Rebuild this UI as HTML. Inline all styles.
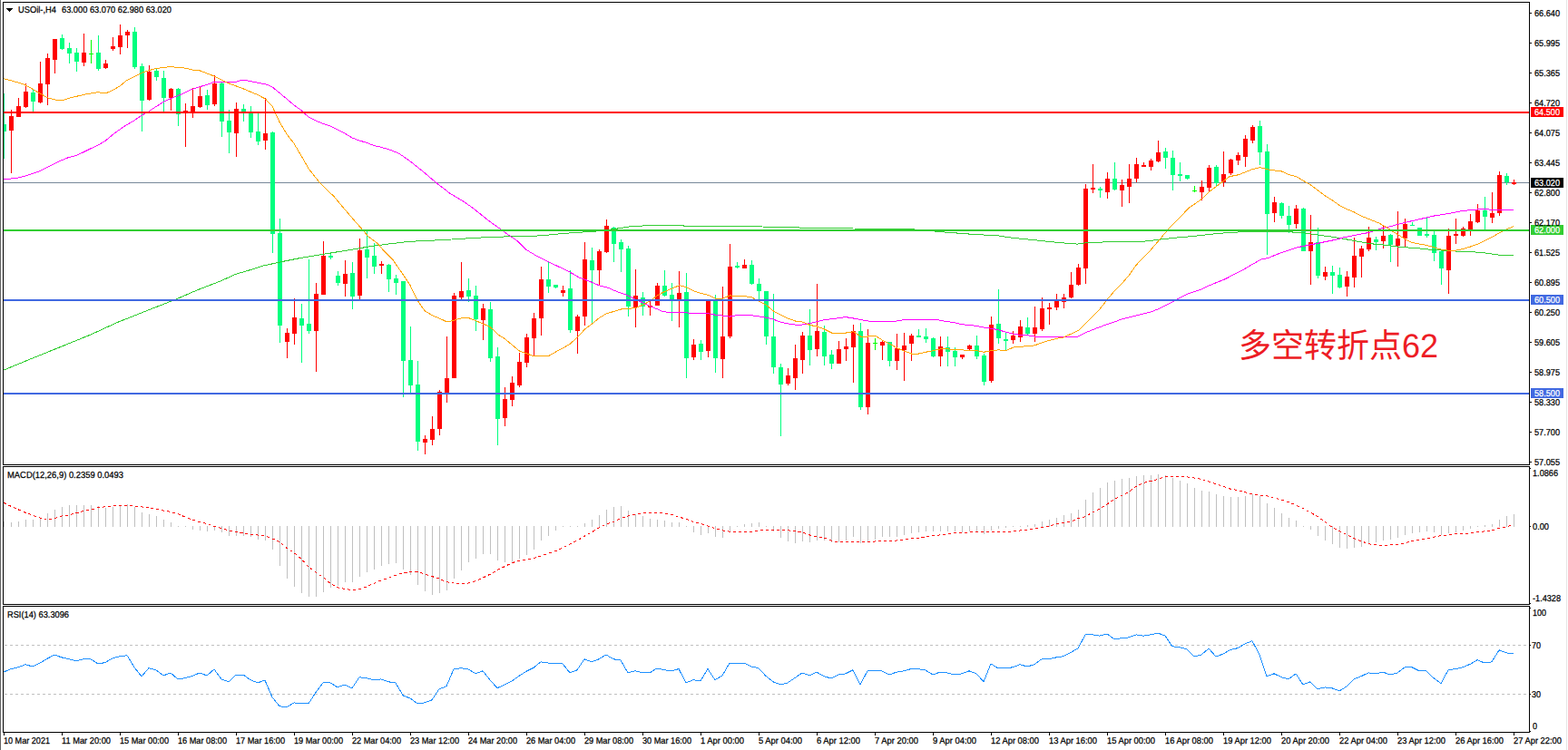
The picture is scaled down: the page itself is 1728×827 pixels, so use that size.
<!DOCTYPE html>
<html><head><meta charset="utf-8"><title>USOil H4</title>
<style>html,body{margin:0;padding:0;background:#fff;}body{width:1728px;height:827px;overflow:hidden;font-family:"Liberation Sans",sans-serif;}svg{display:block;position:absolute;left:0;top:0}text{font-family:"Liberation Sans",sans-serif;font-size:10px;fill:#000;stroke:#000;stroke-width:0.25px;text-rendering:geometricPrecision}</style></head><body>
<svg width="1728" height="827" viewBox="0 0 1728 827">
<rect x="0" y="0" width="1728" height="827" fill="#fff"/>
<defs><clipPath id="cm"><rect x="4" y="3" width="1681" height="509"/></clipPath><clipPath id="c2"><rect x="4" y="515" width="1681" height="151"/></clipPath><clipPath id="c3"><rect x="4" y="669" width="1681" height="138"/></clipPath></defs>
<g shape-rendering="crispEdges">
<rect x="0" y="0" width="1" height="827" fill="#646464"/>
<rect x="1726" y="0" width="1" height="827" fill="#e6e6e6"/>
<rect x="4" y="201" width="1681" height="1" fill="#778899"/>
<path clip-path="url(#cm)" d="M12 121h1v70h-1zM10 128h5v16h-5zM20 108h1v21h-1zM18 117h5v12h-5zM28 92h1v27h-1zM26 101h5v17h-5zM44 68h1v46h-1zM42 92h5v21h-5zM52 59h1v57h-1zM50 64h5v29h-5zM60 43h1v38h-1zM58 43h5v23h-5zM92 37h1v36h-1zM90 58h5v11h-5zM116 66h1v10h-1zM114 70h5v5h-5zM124 41h1v15h-1zM122 51h5v3h-5zM132 27h1v33h-1zM130 39h5v13h-5zM140 33h1v20h-1zM138 35h5v4h-5zM164 72h1v39h-1zM162 79h5v31h-5zM188 97h1v25h-1zM186 98h5v10h-5zM204 114h1v48h-1zM202 122h5v3h-5zM212 97h1v33h-1zM210 117h5v7h-5zM220 96h1v23h-1zM218 106h5v12h-5zM236 83h1v34h-1zM234 92h5v23h-5zM260 113h1v60h-1zM258 120h5v27h-5zM292 108h1v57h-1zM290 147h5v8h-5zM316 362h1v33h-1zM314 367h5v10h-5zM324 329h1v51h-1zM322 350h5v18h-5zM348 312h1v98h-1zM346 324h5v41h-5zM356 266h1v59h-1zM354 282h5v43h-5zM380 287h1v40h-1zM378 302h5v11h-5zM396 263h1v67h-1zM394 276h5v50h-5zM420 288h1v14h-1zM418 291h5v2h-5zM468 480h1v21h-1zM466 484h5v4h-5zM476 459h1v32h-1zM474 473h5v12h-5zM484 430h1v50h-1zM482 432h5v41h-5zM492 371h1v73h-1zM490 417h5v16h-5zM500 323h1v94h-1zM498 326h5v91h-5zM508 289h1v41h-1zM506 321h5v7h-5zM532 335h1v40h-1zM530 340h5v13h-5zM556 427h1v43h-1zM554 440h5v21h-5zM564 415h1v33h-1zM562 422h5v19h-5zM572 389h1v38h-1zM570 399h5v26h-5zM580 368h1v37h-1zM578 372h5v28h-5zM588 345h1v47h-1zM586 351h5v22h-5zM596 294h1v76h-1zM594 308h5v43h-5zM620 315h1v12h-1zM618 320h5v3h-5zM636 347h1v43h-1zM634 349h5v16h-5zM644 267h1v92h-1zM642 286h5v63h-5zM660 275h1v39h-1zM658 277h5v21h-5zM668 242h1v37h-1zM666 249h5v29h-5zM700 297h1v64h-1zM698 326h5v13h-5zM716 332h1v16h-1zM714 337h5v2h-5zM724 312h1v25h-1zM722 315h5v22h-5zM748 299h1v62h-1zM746 323h5v7h-5zM764 374h1v23h-1zM762 380h5v14h-5zM780 332h1v62h-1zM778 332h5v55h-5zM796 316h1v101h-1zM794 371h5v25h-5zM804 269h1v104h-1zM802 294h5v77h-5zM820 286h1v10h-1zM818 292h5v4h-5zM868 406h1v19h-1zM866 414h5v9h-5zM876 380h1v50h-1zM874 395h5v22h-5zM884 366h1v46h-1zM882 370h5v27h-5zM900 313h1v80h-1zM898 365h5v20h-5zM924 376h1v25h-1zM922 385h5v16h-5zM932 373h1v25h-1zM930 382h5v3h-5zM940 358h1v64h-1zM938 365h5v18h-5zM956 363h1v94h-1zM954 378h5v71h-5zM972 375h1v22h-1zM970 377h5v4h-5zM988 368h1v40h-1zM986 384h5v14h-5zM996 367h1v53h-1zM994 381h5v5h-5zM1004 368h1v30h-1zM1002 370h5v9h-5zM1036 371h1v33h-1zM1034 382h5v11h-5zM1060 391h1v5h-1zM1058 391h5v3h-5zM1068 380h1v6h-1zM1066 381h5v4h-5zM1092 349h1v73h-1zM1090 358h5v62h-5zM1116 365h1v14h-1zM1114 370h5v5h-5zM1124 353h1v24h-1zM1122 360h5v12h-5zM1140 338h1v39h-1zM1138 361h5v7h-5zM1148 328h1v37h-1zM1146 340h5v23h-5zM1156 334h1v24h-1zM1154 339h5v2h-5zM1164 324h1v18h-1zM1162 330h5v9h-5zM1172 324h1v16h-1zM1170 328h5v5h-5zM1180 300h1v29h-1zM1178 314h5v14h-5zM1188 291h1v24h-1zM1186 295h5v19h-5zM1196 203h1v110h-1zM1194 208h5v88h-5zM1204 181h1v32h-1zM1202 207h5v2h-5zM1220 190h1v29h-1zM1218 197h5v15h-5zM1236 198h1v30h-1zM1234 204h5v6h-5zM1244 181h1v43h-1zM1242 197h5v9h-5zM1252 174h1v27h-1zM1250 181h5v16h-5zM1260 179h1v5h-1zM1258 182h5v2h-5zM1268 175h1v13h-1zM1266 177h5v7h-5zM1276 155h1v24h-1zM1274 168h5v10h-5zM1324 199h1v22h-1zM1322 206h5v6h-5zM1332 182h1v29h-1zM1330 185h5v22h-5zM1348 167h1v39h-1zM1346 192h5v9h-5zM1356 175h1v18h-1zM1354 176h5v15h-5zM1364 168h1v14h-1zM1362 171h5v6h-5zM1372 149h1v35h-1zM1370 153h5v20h-5zM1380 138h1v20h-1zM1378 140h5v15h-5zM1404 217h1v28h-1zM1402 223h5v12h-5zM1428 226h1v26h-1zM1426 230h5v17h-5zM1444 237h1v77h-1zM1442 267h5v10h-5zM1460 294h1v15h-1zM1458 300h5v5h-5zM1484 299h1v28h-1zM1482 305h5v11h-5zM1492 262h1v55h-1zM1490 282h5v24h-5zM1500 271h1v35h-1zM1498 274h5v9h-5zM1508 250h1v27h-1zM1506 262h5v13h-5zM1524 248h1v26h-1zM1522 260h5v6h-5zM1540 233h1v61h-1zM1538 263h5v8h-5zM1548 241h1v31h-1zM1546 247h5v16h-5zM1596 252h1v72h-1zM1594 260h5v38h-5zM1604 241h1v28h-1zM1602 258h5v2h-5zM1612 250h1v11h-1zM1610 252h5v8h-5zM1620 236h1v24h-1zM1618 244h5v9h-5zM1628 225h1v21h-1zM1626 232h5v13h-5zM1644 212h1v34h-1zM1642 235h5v5h-5zM1652 189h1v49h-1zM1650 193h5v42h-5zM1668 198h1v6h-1zM1666 201h5v2h-5z" fill="#FF0000"/>
<path clip-path="url(#cm)" d="M4 103h1v72h-1zM2 137h5v8h-5zM36 98h1v25h-1zM34 102h5v10h-5zM68 38h1v17h-1zM66 42h5v12h-5zM76 47h1v23h-1zM74 53h5v6h-5zM84 53h1v26h-1zM82 58h5v10h-5zM108 39h1v39h-1zM106 58h5v18h-5zM148 30h1v46h-1zM146 35h5v39h-5zM156 70h1v75h-1zM154 73h5v38h-5zM172 76h1v13h-1zM170 78h5v7h-5zM180 78h1v45h-1zM178 86h5v22h-5zM196 97h1v42h-1zM194 98h5v28h-5zM228 99h1v22h-1zM226 105h5v11h-5zM244 90h1v61h-1zM242 92h5v42h-5zM252 121h1v48h-1zM250 133h5v13h-5zM268 115h1v19h-1zM266 120h5v4h-5zM276 117h1v35h-1zM274 123h5v23h-5zM284 123h1v37h-1zM282 145h5v11h-5zM300 145h1v134h-1zM298 146h5v112h-5zM308 241h1v137h-1zM306 257h5v102h-5zM332 335h1v65h-1zM330 351h5v8h-5zM340 286h1v82h-1zM338 357h5v8h-5zM364 279h1v7h-1zM362 282h5v2h-5zM372 299h1v16h-1zM370 304h5v8h-5zM388 289h1v52h-1zM386 301h5v26h-5zM404 255h1v52h-1zM402 275h5v9h-5zM412 268h1v34h-1zM410 282h5v12h-5zM428 291h1v31h-1zM426 292h5v16h-5zM436 303h1v22h-1zM434 307h5v5h-5zM444 310h1v128h-1zM442 310h5v88h-5zM452 360h1v73h-1zM450 397h5v28h-5zM460 398h1v99h-1zM458 424h5v63h-5zM516 307h1v26h-1zM514 320h5v7h-5zM524 315h1v50h-1zM522 326h5v26h-5zM540 333h1v66h-1zM538 341h5v54h-5zM548 383h1v108h-1zM546 393h5v69h-5zM604 289h1v34h-1zM602 308h5v8h-5zM612 314h1v4h-1zM610 314h5v3h-5zM628 298h1v69h-1zM626 318h5v46h-5zM652 273h1v83h-1zM650 287h5v11h-5zM676 250h1v39h-1zM674 251h5v18h-5zM684 264h1v36h-1zM682 267h5v8h-5zM692 271h1v78h-1zM690 274h5v64h-5zM708 322h1v26h-1zM706 328h5v10h-5zM732 298h1v29h-1zM730 315h5v11h-5zM740 312h1v42h-1zM738 325h5v5h-5zM756 301h1v116h-1zM754 322h5v73h-5zM772 375h1v22h-1zM770 379h5v9h-5zM788 325h1v86h-1zM786 331h5v64h-5zM812 289h1v7h-1zM810 293h5v2h-5zM828 287h1v27h-1zM826 292h5v21h-5zM836 307h1v23h-1zM834 313h5v8h-5zM844 321h1v59h-1zM842 321h5v50h-5zM852 324h1v88h-1zM850 371h5v34h-5zM860 401h1v80h-1zM858 405h5v19h-5zM892 341h1v62h-1zM890 370h5v16h-5zM908 359h1v44h-1zM906 366h5v27h-5zM916 386h1v21h-1zM914 391h5v10h-5zM948 356h1v96h-1zM946 365h5v84h-5zM980 377h1v27h-1zM978 377h5v21h-5zM1012 363h1v9h-1zM1010 370h5v2h-5zM1020 362h1v16h-1zM1018 371h5v3h-5zM1028 372h1v22h-1zM1026 373h5v20h-5zM1044 371h1v33h-1zM1042 383h5v5h-5zM1052 383h1v21h-1zM1050 387h5v7h-5zM1076 370h1v26h-1zM1074 381h5v12h-5zM1084 390h1v35h-1zM1082 392h5v29h-5zM1100 319h1v60h-1zM1098 357h5v16h-5zM1108 366h1v20h-1zM1106 374h5v2h-5zM1132 350h1v19h-1zM1130 361h5v7h-5zM1212 206h1v12h-1zM1210 208h5v2h-5zM1228 179h1v31h-1zM1226 197h5v12h-5zM1284 163h1v23h-1zM1282 167h5v7h-5zM1292 166h1v44h-1zM1290 174h5v19h-5zM1300 179h1v21h-1zM1298 192h5v2h-5zM1308 193h1v5h-1zM1306 193h5v4h-5zM1340 182h1v23h-1zM1338 184h5v18h-5zM1388 133h1v49h-1zM1386 139h5v29h-5zM1396 159h1v122h-1zM1394 167h5v69h-5zM1412 223h1v18h-1zM1410 224h5v14h-5zM1420 227h1v30h-1zM1418 238h5v10h-5zM1436 229h1v48h-1zM1434 230h5v47h-5zM1452 251h1v56h-1zM1450 267h5v37h-5zM1468 293h1v31h-1zM1466 300h5v4h-5zM1476 295h1v23h-1zM1474 303h5v14h-5zM1516 261h1v15h-1zM1514 264h5v3h-5zM1532 258h1v31h-1zM1530 259h5v11h-5zM1556 245h1v4h-1zM1554 248h5v1h-5zM1564 251h1v9h-1zM1562 251h5v9h-5zM1572 240h1v22h-1zM1570 258h5v2h-5zM1580 255h1v33h-1zM1578 259h5v20h-5zM1588 275h1v39h-1zM1586 277h5v19h-5zM1636 217h1v36h-1zM1634 232h5v7h-5zM1660 191h1v13h-1zM1658 194h5v7h-5z" fill="#00FF7F"/>
<path clip-path="url(#cm)" d="M100 44h1v26h-1zM98 59h5v1h-5zM964 373h1v13h-1zM962 378h5v1h-5zM1316 205h1v7h-1zM1314 210h5v1h-5z" fill="#00FF00"/>
</g>
<polyline points="4.0,408.1 40.0,393.3 70.0,381.2 100.0,369.0 130.0,355.2 150.0,347.3 174.0,337.8 192.0,330.8 218.0,319.6 243.0,310.0 260.0,302.2 278.0,297.0 290.0,293.1 310.0,288.7 330.0,284.7 350.0,281.4 370.0,278.1 390.0,274.8 410.0,271.4 430.0,268.8 450.0,266.4 470.0,265.4 490.0,264.5 510.0,263.2 530.0,262.0 560.0,260.8 584.0,260.5 600.0,259.5 620.0,257.5 640.0,256.1 655.0,255.2 680.0,252.1 696.0,249.5 720.0,248.5 752.0,248.5 755.0,249.5 800.0,249.5 840.0,250.0 873.0,250.5 889.0,251.5 940.0,252.0 1000.0,252.5 1008.0,253.0 1040.0,255.9 1070.0,258.2 1100.0,259.9 1115.0,262.2 1140.0,264.7 1160.0,266.8 1175.0,268.2 1187.0,269.1 1195.0,268.0 1215.0,267.0 1255.0,266.8 1275.0,264.5 1295.0,262.2 1315.0,260.5 1335.0,258.2 1355.0,256.4 1375.0,255.5 1416.6,255.4 1440.0,257.2 1450.0,258.8 1470.0,261.4 1490.0,265.0 1510.0,268.7 1530.0,270.5 1545.0,272.7 1560.0,273.4 1570.0,274.7 1590.0,276.1 1600.0,276.7 1610.0,277.4 1620.0,277.5 1640.0,279.3 1655.0,281.7 1668.0,281.9" fill="none" stroke="#32CD32" stroke-width="1" shape-rendering="crispEdges" />
<polyline points="4.0,198.0 20.0,196.0 28.0,194.0 44.0,188.7 52.0,184.4 60.0,180.7 68.0,176.7 76.0,173.4 84.0,171.4 92.0,167.8 100.0,163.8 108.0,160.1 116.0,155.4 124.0,148.7 132.0,142.8 140.0,137.4 148.0,132.8 156.0,127.4 164.0,122.8 172.0,117.5 180.0,112.5 188.0,108.8 196.0,105.5 204.0,102.2 212.0,98.2 220.0,95.7 228.0,93.5 236.0,90.2 260.0,90.2 265.0,88.7 272.0,88.7 280.0,90.5 293.0,92.9 300.0,95.8 308.0,102.4 316.0,109.1 324.0,115.8 332.0,121.7 340.0,129.1 348.0,133.1 356.0,136.4 364.0,139.0 372.0,143.0 380.0,147.0 388.0,152.0 396.0,155.0 404.0,157.3 413.0,160.8 420.0,162.3 431.7,165.8 440.0,169.5 450.0,176.3 463.7,187.1 481.0,201.7 495.6,213.0 510.0,221.7 520.0,228.5 530.0,236.5 540.0,244.5 550.0,251.5 560.0,258.8 570.0,265.5 580.0,275.4 590.0,281.4 600.0,286.7 610.0,291.4 620.0,296.1 630.0,301.2 638.0,305.9 650.0,310.3 660.0,314.7 670.0,317.2 680.0,321.6 690.0,325.0 700.0,330.0 708.0,333.7 716.0,337.5 724.0,340.7 730.0,343.5 740.0,344.8 756.0,344.8 764.0,345.7 780.0,345.7 788.0,347.1 796.0,348.0 804.0,349.1 812.0,347.7 828.0,347.7 836.0,348.8 844.0,350.1 852.0,352.0 860.0,355.1 868.0,356.8 876.0,358.0 884.0,358.0 892.0,356.7 900.0,354.8 908.0,352.8 916.0,351.7 924.0,350.7 932.0,349.6 940.0,350.9 948.5,352.5 962.0,354.9 983.0,354.9 1000.0,352.1 1030.0,352.1 1043.0,354.5 1052.5,355.8 1060.5,357.8 1068.5,358.5 1076.5,359.5 1084.5,361.1 1092.5,362.2 1100.5,363.8 1108.5,366.2 1116.5,368.1 1124.5,369.5 1136.0,370.1 1140.0,371.0 1188.0,371.0 1196.0,367.0 1204.0,363.7 1212.0,360.6 1220.0,357.7 1228.0,355.0 1236.0,352.0 1244.0,350.1 1252.0,348.1 1260.0,346.0 1268.0,344.1 1276.0,341.0 1284.0,337.1 1292.0,333.1 1300.0,328.4 1308.0,324.4 1316.0,321.7 1324.0,319.1 1332.0,315.1 1340.0,311.8 1350.0,307.8 1360.0,302.5 1370.0,297.5 1380.0,291.5 1390.0,286.0 1397.0,284.7 1410.0,279.4 1420.0,276.1 1430.0,272.7 1440.0,270.7 1450.0,268.7 1460.0,266.7 1470.0,264.7 1480.0,262.1 1490.0,260.1 1500.0,258.1 1510.0,256.1 1524.0,251.4 1530.0,250.4 1540.0,247.4 1550.0,245.0 1560.0,242.8 1570.0,240.4 1580.0,238.1 1590.0,236.5 1600.0,234.8 1610.0,232.8 1620.0,231.7 1630.0,230.8 1640.0,230.8 1645.0,231.7 1668.0,231.7" fill="none" stroke="#FF00FF" stroke-width="1" shape-rendering="crispEdges" />
<polyline points="4.0,86.7 20.0,91.0 28.0,93.7 44.0,103.0 52.0,107.7 60.0,109.9 68.0,111.0 76.0,108.3 84.0,106.4 92.0,104.4 100.0,103.0 108.0,101.7 116.0,103.0 124.0,99.7 132.0,95.0 140.0,88.4 148.0,84.4 156.0,80.4 164.0,77.7 172.0,75.5 180.0,74.4 188.0,73.7 196.0,74.4 204.0,75.1 212.0,77.1 220.0,77.8 236.5,84.2 252.0,91.8 268.0,97.8 284.5,104.8 292.5,109.1 300.0,117.1 303.0,123.7 308.0,134.4 316.0,147.7 324.0,158.3 332.0,171.7 340.0,185.8 352.5,201.7 367.8,216.4 381.2,232.3 392.5,245.5 399.1,252.8 405.8,260.8 416.4,268.8 424.4,278.1 433.1,286.7 439.1,295.4 446.4,306.0 451.7,314.0 457.0,324.7 461.7,333.9 468.4,342.9 476.3,347.8 484.3,351.1 493.0,355.1 500.3,353.1 508.3,350.9 517.0,350.8 524.5,353.7 532.5,357.1 540.0,360.4 549.0,369.0 556.5,373.7 564.5,380.4 572.5,387.0 580.5,389.9 588.0,392.6 596.5,392.6 604.5,392.6 612.0,388.3 620.5,383.7 628.5,379.0 636.5,371.7 644.5,363.1 652.5,357.1 660.5,350.4 668.5,345.8 676.5,343.4 684.5,341.0 692.5,340.5 700.5,339.5 709.0,336.0 717.0,331.3 724.5,325.7 732.5,321.5 740.5,318.1 748.5,314.7 756.5,316.6 764.5,320.9 772.5,323.5 780.5,325.4 788.5,329.1 796.5,329.1 804.5,325.8 812.5,326.7 820.5,326.7 828.5,327.8 836.5,332.4 844.5,336.4 852.5,343.1 860.5,347.1 868.5,351.1 876.5,354.0 884.5,355.1 892.5,358.4 900.5,360.0 908.5,363.0 916.5,367.0 924.5,367.0 932.5,367.0 940.5,365.8 948.5,371.0 956.5,371.0 965.0,370.5 972.5,375.1 980.5,379.1 988.5,383.8 996.5,387.1 1004.5,390.0 1012.5,390.0 1020.5,388.2 1028.5,386.7 1036.5,384.8 1044.5,384.8 1052.5,385.8 1060.5,385.8 1068.5,386.7 1076.5,386.7 1084.5,388.2 1092.5,386.7 1100.5,385.8 1108.5,386.7 1116.5,383.1 1124.5,382.2 1132.5,381.8 1140.5,380.8 1148.5,377.7 1156.5,375.3 1164.5,373.3 1172.0,372.0 1180.0,368.3 1188.5,364.3 1196.0,357.0 1204.0,349.0 1212.0,341.0 1220.0,330.4 1228.0,321.1 1236.0,313.1 1244.0,303.8 1252.0,292.5 1260.0,283.8 1268.0,275.8 1276.0,266.5 1287.0,253.3 1297.0,243.3 1310.0,229.4 1324.5,219.4 1332.5,211.4 1340.5,205.4 1348.5,199.4 1355.0,194.7 1364.5,192.8 1372.5,189.8 1380.5,186.5 1388.5,184.6 1396.5,186.8 1404.5,187.9 1412.5,189.0 1420.5,192.7 1428.5,194.7 1436.5,199.4 1444.5,204.0 1452.5,210.0 1460.5,216.0 1468.5,221.0 1476.5,226.7 1484.5,230.7 1492.5,234.0 1500.0,238.1 1510.0,242.1 1520.0,246.1 1527.0,250.1 1535.0,255.4 1541.0,258.8 1548.0,263.4 1556.0,267.4 1564.0,269.0 1572.0,270.3 1580.0,272.7 1588.0,275.1 1596.0,276.1 1604.0,276.2 1612.0,274.7 1620.0,272.2 1628.0,269.4 1636.0,265.7 1644.0,261.7 1652.0,257.0 1660.0,253.0 1668.0,249.7" fill="none" stroke="#FFA500" stroke-width="1" shape-rendering="crispEdges" />
<g shape-rendering="crispEdges">
<rect x="4" y="123" width="1681" height="2" fill="#FF0000"/>
<rect x="4" y="253" width="1681" height="2" fill="#32CD32"/>
<rect x="4" y="330" width="1681" height="2" fill="#4169E1"/>
<rect x="4" y="433" width="1681" height="2" fill="#4169E1"/>
<path d="M4 575h1v6h-1zM12 576h1v5h-1zM20 575h1v6h-1zM28 573h1v8h-1zM36 573h1v8h-1zM44 571h1v10h-1zM52 566h1v15h-1zM60 562h1v19h-1zM68 559h1v22h-1zM76 557h1v24h-1zM84 557h1v24h-1zM92 557h1v24h-1zM100 557h1v24h-1zM108 558h1v23h-1zM116 560h1v21h-1zM124 559h1v22h-1zM132 558h1v23h-1zM140 556h1v25h-1zM148 559h1v22h-1zM156 565h1v16h-1zM164 567h1v14h-1zM172 569h1v12h-1zM180 573h1v8h-1zM188 576h1v5h-1zM196 580h1v1h-1zM204 580h1v1h-1zM212 580h1v4h-1zM220 580h1v5h-1zM228 580h1v6h-1zM236 580h1v5h-1zM244 580h1v7h-1zM252 580h1v11h-1zM260 580h1v11h-1zM268 580h1v11h-1zM276 580h1v12h-1zM284 580h1v15h-1zM292 580h1v16h-1zM300 580h1v26h-1zM308 580h1v44h-1zM316 580h1v58h-1zM324 580h1v67h-1zM332 580h1v74h-1zM340 580h1v78h-1zM348 580h1v78h-1zM356 580h1v73h-1zM364 580h1v68h-1zM372 580h1v66h-1zM380 580h1v62h-1zM388 580h1v62h-1zM396 580h1v56h-1zM404 580h1v51h-1zM412 580h1v48h-1zM420 580h1v44h-1zM428 580h1v42h-1zM436 580h1v41h-1zM444 580h1v48h-1zM452 580h1v54h-1zM460 580h1v65h-1zM468 580h1v72h-1zM476 580h1v76h-1zM484 580h1v74h-1zM492 580h1v71h-1zM500 580h1v58h-1zM508 580h1v49h-1zM516 580h1v40h-1zM524 580h1v36h-1zM532 580h1v31h-1zM540 580h1v31h-1zM548 580h1v38h-1zM556 580h1v40h-1zM564 580h1v40h-1zM572 580h1v36h-1zM580 580h1v32h-1zM588 580h1v26h-1zM596 580h1v16h-1zM604 580h1v11h-1zM612 580h1v5h-1zM620 580h1v1h-1zM628 580h1v1h-1zM636 580h1v1h-1zM644 577h1v4h-1zM652 573h1v8h-1zM660 568h1v13h-1zM668 562h1v19h-1zM676 559h1v22h-1zM684 558h1v23h-1zM692 563h1v18h-1zM700 567h1v14h-1zM708 569h1v12h-1zM716 572h1v9h-1zM724 573h1v8h-1zM732 574h1v7h-1zM740 576h1v5h-1zM748 576h1v5h-1zM756 580h1v1h-1zM764 580h1v7h-1zM772 580h1v10h-1zM780 580h1v8h-1zM788 580h1v12h-1zM796 580h1v13h-1zM804 580h1v7h-1zM812 580h1v1h-1zM820 578h1v3h-1zM828 577h1v4h-1zM836 576h1v5h-1zM844 580h1v1h-1zM852 580h1v6h-1zM860 580h1v13h-1zM868 580h1v17h-1zM876 580h1v19h-1zM884 580h1v17h-1zM892 580h1v18h-1zM900 580h1v16h-1zM908 580h1v16h-1zM916 580h1v18h-1zM924 580h1v18h-1zM932 580h1v16h-1zM940 580h1v12h-1zM948 580h1v19h-1zM956 580h1v17h-1zM964 580h1v15h-1zM972 580h1v12h-1zM980 580h1v12h-1zM988 580h1v12h-1zM996 580h1v10h-1zM1004 580h1v8h-1zM1012 580h1v7h-1zM1020 580h1v6h-1zM1028 580h1v6h-1zM1036 580h1v6h-1zM1044 580h1v6h-1zM1052 580h1v6h-1zM1060 580h1v7h-1zM1068 580h1v6h-1zM1076 580h1v6h-1zM1084 580h1v9h-1zM1092 580h1v5h-1zM1100 580h1v3h-1zM1108 580h1v2h-1zM1116 580h1v1h-1zM1124 580h1v1h-1zM1132 579h1v2h-1zM1140 578h1v3h-1zM1148 575h1v6h-1zM1156 573h1v8h-1zM1164 571h1v10h-1zM1172 568h1v13h-1zM1180 566h1v15h-1zM1188 562h1v19h-1zM1196 551h1v30h-1zM1204 543h1v38h-1zM1212 538h1v43h-1zM1220 532h1v49h-1zM1228 530h1v51h-1zM1236 528h1v53h-1zM1244 527h1v54h-1zM1252 525h1v56h-1zM1260 524h1v57h-1zM1268 524h1v57h-1zM1276 523h1v58h-1zM1284 524h1v57h-1zM1292 527h1v54h-1zM1300 530h1v51h-1zM1308 533h1v48h-1zM1316 538h1v43h-1zM1324 541h1v40h-1zM1332 542h1v39h-1zM1340 545h1v36h-1zM1348 547h1v34h-1zM1356 548h1v33h-1zM1364 548h1v33h-1zM1372 547h1v34h-1zM1380 545h1v36h-1zM1388 547h1v34h-1zM1396 555h1v26h-1zM1404 560h1v21h-1zM1412 566h1v15h-1zM1420 571h1v10h-1zM1428 574h1v7h-1zM1436 580h1v1h-1zM1444 580h1v4h-1zM1452 580h1v11h-1zM1460 580h1v16h-1zM1468 580h1v20h-1zM1476 580h1v24h-1zM1484 580h1v25h-1zM1492 580h1v24h-1zM1500 580h1v23h-1zM1508 580h1v20h-1zM1516 580h1v18h-1zM1524 580h1v16h-1zM1532 580h1v15h-1zM1540 580h1v13h-1zM1548 580h1v10h-1zM1556 580h1v8h-1zM1564 580h1v7h-1zM1572 580h1v6h-1zM1580 580h1v7h-1zM1588 580h1v10h-1zM1596 580h1v8h-1zM1604 580h1v7h-1zM1612 580h1v5h-1zM1620 580h1v3h-1zM1628 580h1v1h-1zM1636 579h1v2h-1zM1644 578h1v3h-1zM1652 573h1v8h-1zM1660 569h1v12h-1zM1668 567h1v14h-1z" fill="#C0C0C0"/>
</g>
<polyline points="4.0,554.3 12.0,558.3 20.0,561.8 28.0,565.2 36.0,568.3 44.0,571.0 52.0,572.7 60.0,571.8 68.0,569.0 76.0,567.8 84.0,565.7 92.0,563.5 100.0,562.3 108.0,559.7 116.0,558.8 124.0,557.9 132.0,557.9 140.0,557.9 148.0,557.9 156.0,558.8 164.0,560.0 172.0,560.9 180.0,563.1 188.0,564.4 196.0,566.6 204.0,570.1 212.0,573.0 220.0,575.6 228.0,577.4 236.0,580.5 244.0,582.6 252.0,584.8 260.0,586.4 268.0,587.8 276.0,589.0 284.0,590.0 292.0,590.9 300.0,593.9 308.0,597.3 316.0,604.3 324.0,609.5 332.0,616.4 340.0,625.1 348.0,631.2 356.0,636.4 364.0,643.3 372.0,647.7 380.0,649.4 388.0,650.6 396.0,649.9 404.0,646.8 412.0,643.3 420.0,639.9 428.0,637.3 436.0,634.3 444.0,631.7 452.0,630.8 460.0,630.8 468.0,632.9 476.0,635.5 484.0,638.1 492.0,641.6 500.0,643.0 508.0,643.7 516.0,643.0 524.0,640.7 532.0,637.3 540.0,633.3 548.0,628.6 556.0,624.8 564.0,620.8 572.0,618.2 580.0,616.8 588.0,615.6 596.0,613.0 604.0,610.4 612.0,607.8 620.0,604.3 628.0,599.9 636.0,596.1 644.0,591.3 652.0,586.9 660.0,582.1 668.0,577.9 676.0,575.3 684.0,571.6 692.0,569.0 700.0,567.1 708.0,565.9 716.0,565.0 724.0,565.0 732.0,565.9 740.0,567.1 748.0,570.1 756.0,572.2 764.0,575.3 772.0,577.4 780.0,580.0 788.0,582.6 796.0,584.8 804.0,586.1 812.0,586.9 820.0,586.9 828.0,586.9 836.0,585.2 844.0,584.0 852.0,584.0 860.0,584.0 868.0,584.8 876.0,585.9 884.0,586.9 892.0,589.9 900.0,591.8 908.0,593.0 916.0,596.0 924.0,597.9 932.0,597.9 940.0,597.9 948.0,597.9 956.0,597.0 964.0,597.0 972.0,596.6 980.0,596.0 988.0,596.0 996.0,594.9 1004.0,594.0 1012.0,593.9 1020.0,591.8 1028.0,590.9 1036.0,589.9 1044.0,588.8 1052.0,587.8 1060.0,587.8 1068.0,586.9 1076.0,586.9 1084.0,586.9 1092.0,586.9 1100.0,586.9 1108.0,586.9 1116.0,586.1 1124.0,585.0 1132.0,584.0 1140.0,582.9 1148.0,581.7 1156.0,580.5 1164.0,577.8 1172.0,576.5 1180.0,575.3 1188.0,571.4 1196.0,569.7 1204.0,564.8 1212.0,561.0 1220.0,556.2 1228.0,550.4 1236.0,546.6 1244.0,542.3 1252.0,536.5 1260.0,532.4 1268.0,530.5 1276.0,528.4 1284.0,525.8 1292.0,525.8 1300.0,525.8 1308.0,525.8 1316.0,527.0 1324.0,528.4 1332.0,531.0 1340.0,533.6 1348.0,536.2 1356.0,539.2 1364.0,540.5 1372.0,542.6 1380.0,544.9 1388.0,546.1 1396.0,546.6 1404.0,549.2 1412.0,551.0 1420.0,553.6 1428.0,557.0 1436.0,560.5 1444.0,565.1 1452.0,569.5 1460.0,575.3 1468.0,581.4 1476.0,585.4 1484.0,589.5 1492.0,593.7 1500.0,596.7 1508.0,599.7 1516.0,600.9 1524.0,601.7 1532.0,600.9 1540.0,600.9 1548.0,599.0 1556.0,596.4 1564.0,595.2 1572.0,594.0 1580.0,592.2 1588.0,590.7 1596.0,589.9 1604.0,588.9 1612.0,588.9 1620.0,587.8 1628.0,586.9 1636.0,585.9 1644.0,585.0 1652.0,582.4 1660.0,581.1 1668.0,577.9" fill="none" stroke="#FF0000" stroke-width="1" shape-rendering="crispEdges" stroke-dasharray="3 3"/>
<g shape-rendering="crispEdges">
<path d="M5 711.5H1685M5 765.5H1685" stroke="#C0C0C0" stroke-width="1" stroke-dasharray="3 3" fill="none"/>
</g>
<polyline points="4.0,741.1 12.0,737.6 20.0,735.8 28.0,732.7 36.0,735.0 44.0,731.0 52.0,726.3 60.0,722.0 68.0,724.9 76.0,726.8 84.0,728.9 92.0,726.8 100.0,726.8 108.0,731.9 116.0,730.6 124.0,725.8 132.0,723.7 140.0,722.7 148.0,735.8 156.0,745.9 164.0,736.7 172.0,738.8 180.0,745.0 188.0,741.9 196.0,748.9 204.0,747.7 212.0,745.4 220.0,741.9 228.0,745.0 236.0,737.9 244.0,748.9 252.0,751.8 260.0,744.0 268.0,744.0 276.0,749.7 284.0,752.9 292.0,750.1 300.0,768.8 308.0,778.7 316.0,779.8 324.0,774.9 332.0,775.8 340.0,775.8 348.0,763.6 356.0,752.9 364.0,752.9 372.0,757.9 380.0,754.9 388.0,758.8 396.0,746.8 404.0,747.7 412.0,749.7 420.0,748.9 428.0,751.8 436.0,752.9 444.0,766.8 452.0,770.0 460.0,775.8 468.0,774.9 476.0,771.8 484.0,759.8 492.0,756.7 500.0,737.9 508.0,736.7 516.0,737.9 524.0,742.8 532.0,739.8 540.0,749.7 548.0,758.8 556.0,754.9 564.0,751.1 572.0,745.4 580.0,740.3 588.0,736.3 596.0,729.8 604.0,731.0 612.0,731.9 620.0,731.9 628.0,741.9 636.0,738.8 644.0,726.8 652.0,729.9 660.0,726.8 668.0,722.0 676.0,726.8 684.0,727.9 692.0,741.9 700.0,739.8 708.0,741.9 716.0,741.9 724.0,736.9 732.0,738.8 740.0,739.8 748.0,737.6 756.0,752.9 764.0,749.7 772.0,751.0 780.0,737.6 788.0,749.7 796.0,744.9 804.0,731.0 812.0,731.0 820.0,731.0 828.0,735.0 836.0,736.7 844.0,745.4 852.0,751.8 860.0,754.9 868.0,752.9 876.0,747.5 884.0,741.9 892.0,744.9 900.0,741.1 908.0,745.7 916.0,748.0 924.0,744.0 932.0,742.8 940.0,738.8 948.0,754.9 956.0,739.8 964.0,739.8 972.0,739.8 980.0,744.0 988.0,741.1 996.0,739.8 1004.0,737.6 1012.0,737.6 1020.0,739.0 1028.0,744.0 1036.0,741.1 1044.0,741.9 1052.0,744.0 1060.0,742.8 1068.0,739.8 1076.0,742.8 1084.0,751.8 1092.0,731.9 1100.0,736.9 1108.0,736.9 1116.0,735.8 1124.0,732.7 1132.0,735.0 1140.0,732.7 1148.0,726.8 1156.0,726.8 1164.0,724.9 1172.0,723.7 1180.0,719.4 1188.0,715.0 1196.0,699.9 1204.0,699.9 1212.0,701.1 1220.0,698.9 1228.0,704.9 1236.0,703.7 1244.0,702.9 1252.0,699.9 1260.0,701.1 1268.0,699.9 1276.0,698.0 1284.0,701.1 1292.0,712.8 1300.0,713.8 1308.0,715.9 1316.0,724.0 1324.0,722.0 1332.0,715.0 1340.0,724.0 1348.0,721.1 1356.0,716.4 1364.0,714.7 1372.0,709.8 1380.0,706.7 1388.0,722.0 1396.0,745.9 1404.0,742.8 1412.0,746.6 1420.0,748.9 1428.0,742.8 1436.0,754.9 1444.0,751.8 1452.0,759.8 1460.0,757.9 1468.0,758.8 1476.0,761.9 1484.0,757.0 1492.0,748.9 1500.0,745.7 1508.0,741.9 1516.0,742.8 1524.0,741.1 1532.0,744.0 1540.0,741.9 1548.0,735.8 1556.0,735.8 1564.0,739.8 1572.0,739.8 1580.0,747.7 1588.0,753.7 1596.0,738.8 1604.0,737.6 1612.0,735.8 1620.0,732.4 1628.0,727.7 1636.0,731.0 1644.0,729.8 1652.0,716.8 1660.0,719.9 1668.0,720.9" fill="none" stroke="#1E90FF" stroke-width="1" shape-rendering="crispEdges" />
<g shape-rendering="crispEdges" fill="#000">
<rect x="3" y="2" width="1683" height="1" fill="#000"/>
<rect x="3" y="512" width="1683" height="1" fill="#000"/>
<rect x="3" y="2" width="1" height="511" fill="#000"/>
<rect x="1685" y="2" width="1" height="511" fill="#000"/>
<rect x="3" y="514" width="1683" height="1" fill="#000"/>
<rect x="3" y="666" width="1683" height="1" fill="#000"/>
<rect x="3" y="514" width="1" height="153" fill="#000"/>
<rect x="1685" y="514" width="1" height="153" fill="#000"/>
<rect x="3" y="668" width="1683" height="1" fill="#000"/>
<rect x="3" y="807" width="1683" height="1" fill="#000"/>
<rect x="3" y="668" width="1" height="140" fill="#000"/>
<rect x="1685" y="668" width="1" height="140" fill="#000"/>
<rect x="1686" y="14" width="2" height="1" fill="#000"/>
<rect x="1686" y="47" width="2" height="1" fill="#000"/>
<rect x="1686" y="80" width="2" height="1" fill="#000"/>
<rect x="1686" y="113" width="2" height="1" fill="#000"/>
<rect x="1686" y="146" width="2" height="1" fill="#000"/>
<rect x="1686" y="179" width="2" height="1" fill="#000"/>
<rect x="1686" y="212" width="2" height="1" fill="#000"/>
<rect x="1686" y="245" width="2" height="1" fill="#000"/>
<rect x="1686" y="278" width="2" height="1" fill="#000"/>
<rect x="1686" y="311" width="2" height="1" fill="#000"/>
<rect x="1686" y="344" width="2" height="1" fill="#000"/>
<rect x="1686" y="377" width="2" height="1" fill="#000"/>
<rect x="1686" y="410" width="2" height="1" fill="#000"/>
<rect x="1686" y="443" width="2" height="1" fill="#000"/>
<rect x="1686" y="476" width="2" height="1" fill="#000"/>
<rect x="1686" y="509" width="2" height="1" fill="#000"/>
<rect x="1686" y="516" width="1" height="1" fill="#000"/>
<rect x="1686" y="580" width="1" height="1" fill="#000"/>
<rect x="1686" y="665" width="1" height="1" fill="#000"/>
<rect x="1686" y="670" width="1" height="1" fill="#000"/>
<rect x="1686" y="711" width="1" height="1" fill="#000"/>
<rect x="1686" y="765" width="1" height="1" fill="#000"/>
<rect x="1686" y="806" width="1" height="1" fill="#000"/>
<rect x="4" y="808" width="1" height="3" fill="#000"/>
<rect x="68" y="808" width="1" height="3" fill="#000"/>
<rect x="132" y="808" width="1" height="3" fill="#000"/>
<rect x="196" y="808" width="1" height="3" fill="#000"/>
<rect x="260" y="808" width="1" height="3" fill="#000"/>
<rect x="324" y="808" width="1" height="3" fill="#000"/>
<rect x="388" y="808" width="1" height="3" fill="#000"/>
<rect x="452" y="808" width="1" height="3" fill="#000"/>
<rect x="516" y="808" width="1" height="3" fill="#000"/>
<rect x="580" y="808" width="1" height="3" fill="#000"/>
<rect x="644" y="808" width="1" height="3" fill="#000"/>
<rect x="708" y="808" width="1" height="3" fill="#000"/>
<rect x="772" y="808" width="1" height="3" fill="#000"/>
<rect x="836" y="808" width="1" height="3" fill="#000"/>
<rect x="900" y="808" width="1" height="3" fill="#000"/>
<rect x="964" y="808" width="1" height="3" fill="#000"/>
<rect x="1028" y="808" width="1" height="3" fill="#000"/>
<rect x="1092" y="808" width="1" height="3" fill="#000"/>
<rect x="1156" y="808" width="1" height="3" fill="#000"/>
<rect x="1220" y="808" width="1" height="3" fill="#000"/>
<rect x="1284" y="808" width="1" height="3" fill="#000"/>
<rect x="1348" y="808" width="1" height="3" fill="#000"/>
<rect x="1412" y="808" width="1" height="3" fill="#000"/>
<rect x="1476" y="808" width="1" height="3" fill="#000"/>
<rect x="1540" y="808" width="1" height="3" fill="#000"/>
<rect x="1604" y="808" width="1" height="3" fill="#000"/>
<rect x="1668" y="808" width="1" height="3" fill="#000"/>
<rect x="1687" y="118" width="36" height="11" fill="#FF0000"/>
<rect x="1687" y="196" width="36" height="11" fill="#000000"/>
<rect x="1687" y="248" width="36" height="11" fill="#32CD32"/>
<rect x="1687" y="325" width="36" height="11" fill="#4169E1"/>
<rect x="1687" y="428" width="36" height="11" fill="#4169E1"/>
<path d="M7 9h7v1h-7zM8 10h5v1h-5zM9 11h3v1h-3zM10 12h1v1h-1z"/>
</g>
<text x="1691" y="18" textLength="28" lengthAdjust="spacingAndGlyphs">66.640</text>
<text x="1691" y="51" textLength="28" lengthAdjust="spacingAndGlyphs">65.995</text>
<text x="1691" y="84" textLength="28" lengthAdjust="spacingAndGlyphs">65.365</text>
<text x="1691" y="117" textLength="28" lengthAdjust="spacingAndGlyphs">64.720</text>
<text x="1691" y="150" textLength="28" lengthAdjust="spacingAndGlyphs">64.075</text>
<text x="1691" y="183" textLength="28" lengthAdjust="spacingAndGlyphs">63.445</text>
<text x="1691" y="216" textLength="28" lengthAdjust="spacingAndGlyphs">62.800</text>
<text x="1691" y="249" textLength="28" lengthAdjust="spacingAndGlyphs">62.170</text>
<text x="1691" y="282" textLength="28" lengthAdjust="spacingAndGlyphs">61.525</text>
<text x="1691" y="315" textLength="28" lengthAdjust="spacingAndGlyphs">60.895</text>
<text x="1691" y="348" textLength="28" lengthAdjust="spacingAndGlyphs">60.250</text>
<text x="1691" y="381" textLength="28" lengthAdjust="spacingAndGlyphs">59.605</text>
<text x="1691" y="414" textLength="28" lengthAdjust="spacingAndGlyphs">58.975</text>
<text x="1691" y="447" textLength="28" lengthAdjust="spacingAndGlyphs">58.330</text>
<text x="1691" y="480" textLength="28" lengthAdjust="spacingAndGlyphs">57.700</text>
<text x="1691" y="513" textLength="28" lengthAdjust="spacingAndGlyphs">57.055</text>
<text x="1691" y="127" textLength="28" lengthAdjust="spacingAndGlyphs" style="fill:#fff;stroke:#fff">64.500</text>
<text x="1691" y="205" textLength="28" lengthAdjust="spacingAndGlyphs" style="fill:#fff;stroke:#fff">63.020</text>
<text x="1691" y="257" textLength="28" lengthAdjust="spacingAndGlyphs" style="fill:#fff;stroke:#fff">62.000</text>
<text x="1691" y="334" textLength="28" lengthAdjust="spacingAndGlyphs" style="fill:#fff;stroke:#fff">60.500</text>
<text x="1691" y="437" textLength="28" lengthAdjust="spacingAndGlyphs" style="fill:#fff;stroke:#fff">58.500</text>
<text x="1689" y="525" textLength="28" lengthAdjust="spacingAndGlyphs">1.0866</text>
<text x="1689" y="584" textLength="18" lengthAdjust="spacingAndGlyphs">0.00</text>
<text x="1689" y="663" textLength="31" lengthAdjust="spacingAndGlyphs">-1.4328</text>
<text x="1689" y="679" textLength="15" lengthAdjust="spacingAndGlyphs">100</text>
<text x="1688" y="715" textLength="10" lengthAdjust="spacingAndGlyphs">70</text>
<text x="1688" y="769" textLength="10" lengthAdjust="spacingAndGlyphs">30</text>
<text x="1689" y="804" textLength="5" lengthAdjust="spacingAndGlyphs">0</text>
<text x="20" y="14" textLength="42" lengthAdjust="spacingAndGlyphs">USOil-,H4</text>
<text x="68" y="14" textLength="121" lengthAdjust="spacingAndGlyphs">63.000 63.070 62.980 63.020</text>
<text x="8" y="527" textLength="128" lengthAdjust="spacingAndGlyphs">MACD(12,26,9) 0.2359 0.0493</text>
<text x="8" y="681" textLength="68" lengthAdjust="spacingAndGlyphs">RSI(14) 63.3096</text>
<text x="4" y="820" textLength="51" lengthAdjust="spacingAndGlyphs">10 Mar 2021</text>
<text x="68" y="820" textLength="54" lengthAdjust="spacingAndGlyphs">11 Mar 20:00</text>
<text x="132" y="820" textLength="54" lengthAdjust="spacingAndGlyphs">15 Mar 00:00</text>
<text x="196" y="820" textLength="54" lengthAdjust="spacingAndGlyphs">16 Mar 08:00</text>
<text x="260" y="820" textLength="54" lengthAdjust="spacingAndGlyphs">17 Mar 16:00</text>
<text x="324" y="820" textLength="54" lengthAdjust="spacingAndGlyphs">19 Mar 00:00</text>
<text x="388" y="820" textLength="54" lengthAdjust="spacingAndGlyphs">22 Mar 04:00</text>
<text x="452" y="820" textLength="54" lengthAdjust="spacingAndGlyphs">23 Mar 12:00</text>
<text x="516" y="820" textLength="54" lengthAdjust="spacingAndGlyphs">24 Mar 20:00</text>
<text x="580" y="820" textLength="54" lengthAdjust="spacingAndGlyphs">26 Mar 04:00</text>
<text x="644" y="820" textLength="54" lengthAdjust="spacingAndGlyphs">29 Mar 08:00</text>
<text x="708" y="820" textLength="54" lengthAdjust="spacingAndGlyphs">30 Mar 16:00</text>
<text x="772" y="820" textLength="48" lengthAdjust="spacingAndGlyphs">1 Apr 00:00</text>
<text x="836" y="820" textLength="48" lengthAdjust="spacingAndGlyphs">5 Apr 04:00</text>
<text x="900" y="820" textLength="48" lengthAdjust="spacingAndGlyphs">6 Apr 12:00</text>
<text x="964" y="820" textLength="48" lengthAdjust="spacingAndGlyphs">7 Apr 20:00</text>
<text x="1028" y="820" textLength="48" lengthAdjust="spacingAndGlyphs">9 Apr 04:00</text>
<text x="1092" y="820" textLength="53" lengthAdjust="spacingAndGlyphs">12 Apr 08:00</text>
<text x="1156" y="820" textLength="53" lengthAdjust="spacingAndGlyphs">13 Apr 16:00</text>
<text x="1220" y="820" textLength="53" lengthAdjust="spacingAndGlyphs">15 Apr 00:00</text>
<text x="1284" y="820" textLength="53" lengthAdjust="spacingAndGlyphs">16 Apr 08:00</text>
<text x="1348" y="820" textLength="53" lengthAdjust="spacingAndGlyphs">19 Apr 12:00</text>
<text x="1412" y="820" textLength="53" lengthAdjust="spacingAndGlyphs">20 Apr 20:00</text>
<text x="1476" y="820" textLength="53" lengthAdjust="spacingAndGlyphs">22 Apr 04:00</text>
<text x="1540" y="820" textLength="53" lengthAdjust="spacingAndGlyphs">23 Apr 12:00</text>
<text x="1604" y="820" textLength="53" lengthAdjust="spacingAndGlyphs">26 Apr 16:00</text>
<text x="1668" y="820" textLength="53" lengthAdjust="spacingAndGlyphs">27 Apr 22:00</text>
<text x="1365" y="394" textLength="220" lengthAdjust="spacingAndGlyphs" style="font-family:'Liberation Sans','Noto Sans CJK SC',sans-serif;font-size:37px;fill:#ED1C24;stroke:none">多空转折点62</text>
</svg></body></html>
